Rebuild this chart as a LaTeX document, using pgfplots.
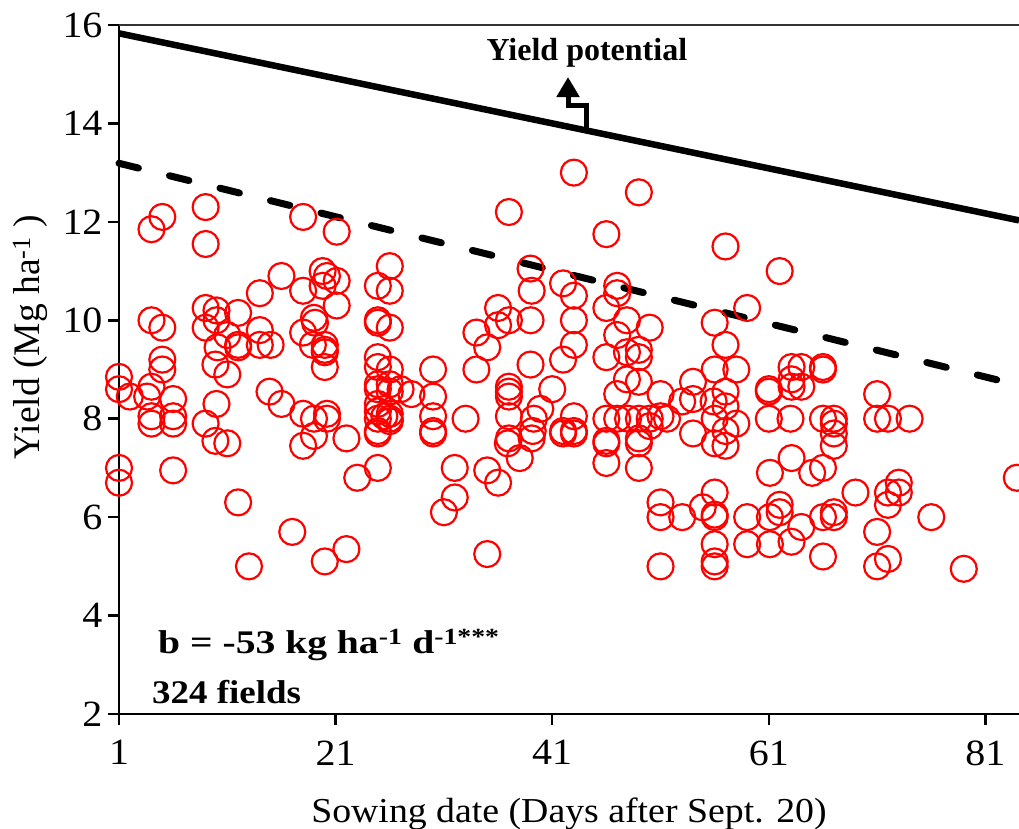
\documentclass[border=0pt]{standalone}
\usepackage{fontspec}
\setmainfont{Liberation Serif}
\newfontfamily\tickfont{Liberation Serif}[FakeStretch=1.08]
\newfontfamily\annfont{Liberation Serif}[FakeStretch=1.2]
\newfontfamily\annfontb{Liberation Serif}[FakeStretch=1.12]
\usepackage{pgfplots}
\pgfplotsset{compat=1.18}
\usetikzlibrary{arrows.meta}
\begin{document}
\begin{tikzpicture}
\begin{axis}[
 scale only axis, width=900pt, height=689pt,
 xmin=1, xmax=84.1, ymin=2, ymax=16,
 axis x line*=bottom, axis y line*=left,
 axis line style={line width=2.5pt, -},
 xtick={1,21,41,61,81}, ytick={2,4,...,16},
 tick align=outside, major tick length=11pt,
 every tick/.style={black, line width=2.5pt},
 /pgf/number format/assume math mode=true,
 ticklabel style={font=\tickfont\fontsize{37}{42}\selectfont},
 xticklabel style={yshift=-12pt},
 yticklabel style={xshift=-2pt},
 xlabel={Sowing date (Days after Sept. 20)},
 xlabel style={font=\tickfont\fontsize{35}{40}\selectfont, at={(axis description cs:0.5,-0.157)}, anchor=base},
 ylabel={Yield (Mg ha\textsuperscript{-1} )},
 ylabel style={font=\fontsize{37.5}{40}\selectfont, at={(axis description cs:-0.099,0.547)}, anchor=center},
 clip=false,
]
\draw[line width=1.5pt, black!80] (rel axis cs:0,1) -- (rel axis cs:1,1);
\addplot[only marks, mark=o, mark size=13pt, red, mark options={line width=2.2pt, red}] coordinates {
(1,8.85)(1,8.6)(1,7.0)(1,6.7)(2,8.45)
(3.6,8.45)(4,8.65)(4,8.05)(5,9.2)(5,9.0)(6,8.4)(6,8.05)(6,6.95)(4,10.0)(5,9.85)(4,11.85)(5,12.1)(4,7.9)(6,7.9)
(9,12.3)(9,11.55)(9,10.25)(10,10.2)(9,9.85)(10,10.0)(12,10.15)(10.1,9.45)(12,9.5)(9.9,9.1)(11,8.9)(10,8.3)(9,7.9)(9.9,7.55)(11,7.5)(11,9.7)(12,9.45)
(12,6.3)(13,5.0)
(14,10.55)(14,9.8)(14,9.5)(15,9.5)(14.9,8.55)(16,8.3)(16,10.9)(17,5.7)
(18,12.1)(18,10.6)(18,9.75)(18,8.1)(18,7.45)(19,10.05)(19.1,9.95)(18.9,9.5)(20,9.5)(20,9.4)(20,9.35)(20,9.05)(19,8.0)(20.2,8.1)(20.2,8.0)(19,7.65)(19.8,11.0)(20.2,10.9)(21.1,10.8)(19.8,10.7)(21.1,10.3)(21.1,11.8)(22,7.6)(22,5.35)(20,5.1)(23,6.8)
(24.9,10.7)(26,10.6)(26,11.1)(24.9,10.0)(24.9,9.95)(26,9.85)(24.9,9.25)(24.9,9.05)(26,9.0)(24.9,8.7)(24.9,8.6)(26,8.7)(26,8.55)(27,8.6)(24.9,8.3)(24.9,8.15)(24.9,8.0)(26,8.0)(26,8.1)(24.9,7.75)(24.9,7.7)(24.9,7.0)(26,7.95)(25.5,8.05)
(28,8.5)(30,9.0)(30,8.45)(30,8.05)(30,7.75)(30,7.7)(33,8.0)(31,6.1)(32,6.4)(32,7.0)
(34,9.75)(34,9.0)(35,9.45)(35,6.95)(35,5.25)(36,10.25)(36,9.9)(36,6.7)(37,10.0)(37,12.2)(37,8.65)(37,8.55)(37,8.45)(37,8.05)(37,7.6)(36.9,7.5)(38,7.2)
(39,11.05)(39.1,10.6)(39,10.0)(39,9.1)(39.9,8.2)(39.3,8.0)(39.2,7.75)(39.1,7.6)(41,8.6)(42,10.75)(42,9.2)(42,7.75)(42,7.7)(43,13.0)(43,10.5)(43,10.0)(43,9.5)(43,8.05)(43,7.75)(43,7.7)
(46,11.75)(46,10.25)(46,9.25)(46,8.0)(46,7.55)(46,7.5)(46,7.1)(47,10.7)(47,10.55)(47,9.7)(47,8.5)(47,8.0)(47.9,10.0)(47.9,9.35)(47.9,8.8)(48,8.0)(49,12.6)(49,9.4)(49,9.25)(49,8.75)(49,8.0)(49,7.6)(49,7.5)(49,7.0)(50,9.85)(50,8.0)(50,7.85)(51,8.5)(51,8.05)(51,6.3)(51,6.0)(51,5.0)(51.6,8.0)
(53,8.35)(53,6.0)(54,8.75)(54,8.4)(54,7.7)(54.9,6.2)(56,9.95)(56,9.0)(55.9,8.35)(56,8.0)(56,7.5)(56,6.5)(56,6.05)(56,6.0)(56,5.45)(56,5.1)(56,5.0)(57,11.5)(57,9.5)(57,8.55)(57,8.25)(57,7.75)(57,7.45)(58,9.0)(58,7.9)(59,10.25)(59,6.0)(59,5.45)
(61,8.6)(61,8.55)(61,8.0)(61.1,6.9)(61.1,6.0)(61.1,5.45)(62,11.0)(62,6.25)(62,6.1)(63.1,9.05)(64,9.05)(63.1,8.8)(63.1,8.65)(64,8.65)(63,8.0)(63.1,7.2)(63.1,5.5)(64,5.8)(65,6.9)(66,9.05)(66,9.0)(66,8.0)(66,7.0)(66,6.0)(66,5.2)(67,8.0)(67,7.9)(67,7.7)(67,7.45)(67,6.1)(67,6.0)
(69,6.5)(71,8.5)(71,8.0)(71,5.7)(71,5.0)(72,8.0)(72,6.5)(72,6.25)(72,5.15)(73,6.7)(73,6.5)(74,8.0)(76,6.0)(79,4.95)(83.9,6.8)
};
\addplot[black, line width=6.5pt] coordinates {(1,15.83) (84.1,12.03)};
\addplot[black, line width=7pt, line cap=round, dash pattern=on 20pt off 32pt] coordinates {(1,13.19) (84.1,8.68)};
\draw[line width=5pt, -{Triangle[length=20pt,width=22pt]}] (axis cs:44.19,13.85) -- (axis cs:44.19,14.374) -- (axis cs:42.46,14.374) -- (axis cs:42.46,14.943);
\node[font=\bfseries\fontsize{32}{36}\selectfont] at (axis cs:44.2,15.43) {Yield potential};
\node[anchor=base west, inner sep=0pt, font=\annfont\bfseries\fontsize{33}{36}\selectfont] at (axis cs:4.6,3.238) {b = -53 kg ha\textsuperscript{-1} d\textsuperscript{-1***}};
\node[anchor=base west, inner sep=0pt, font=\annfontb\bfseries\fontsize{33}{36}\selectfont] at (axis cs:4.05,2.222) {324 fields};
\end{axis}
\pgfresetboundingbox
\path ([shift={(-119pt,-115pt)}]current axis.south west) rectangle ([shift={(0pt,25pt)}]current axis.north east);
\end{tikzpicture}
\end{document}
